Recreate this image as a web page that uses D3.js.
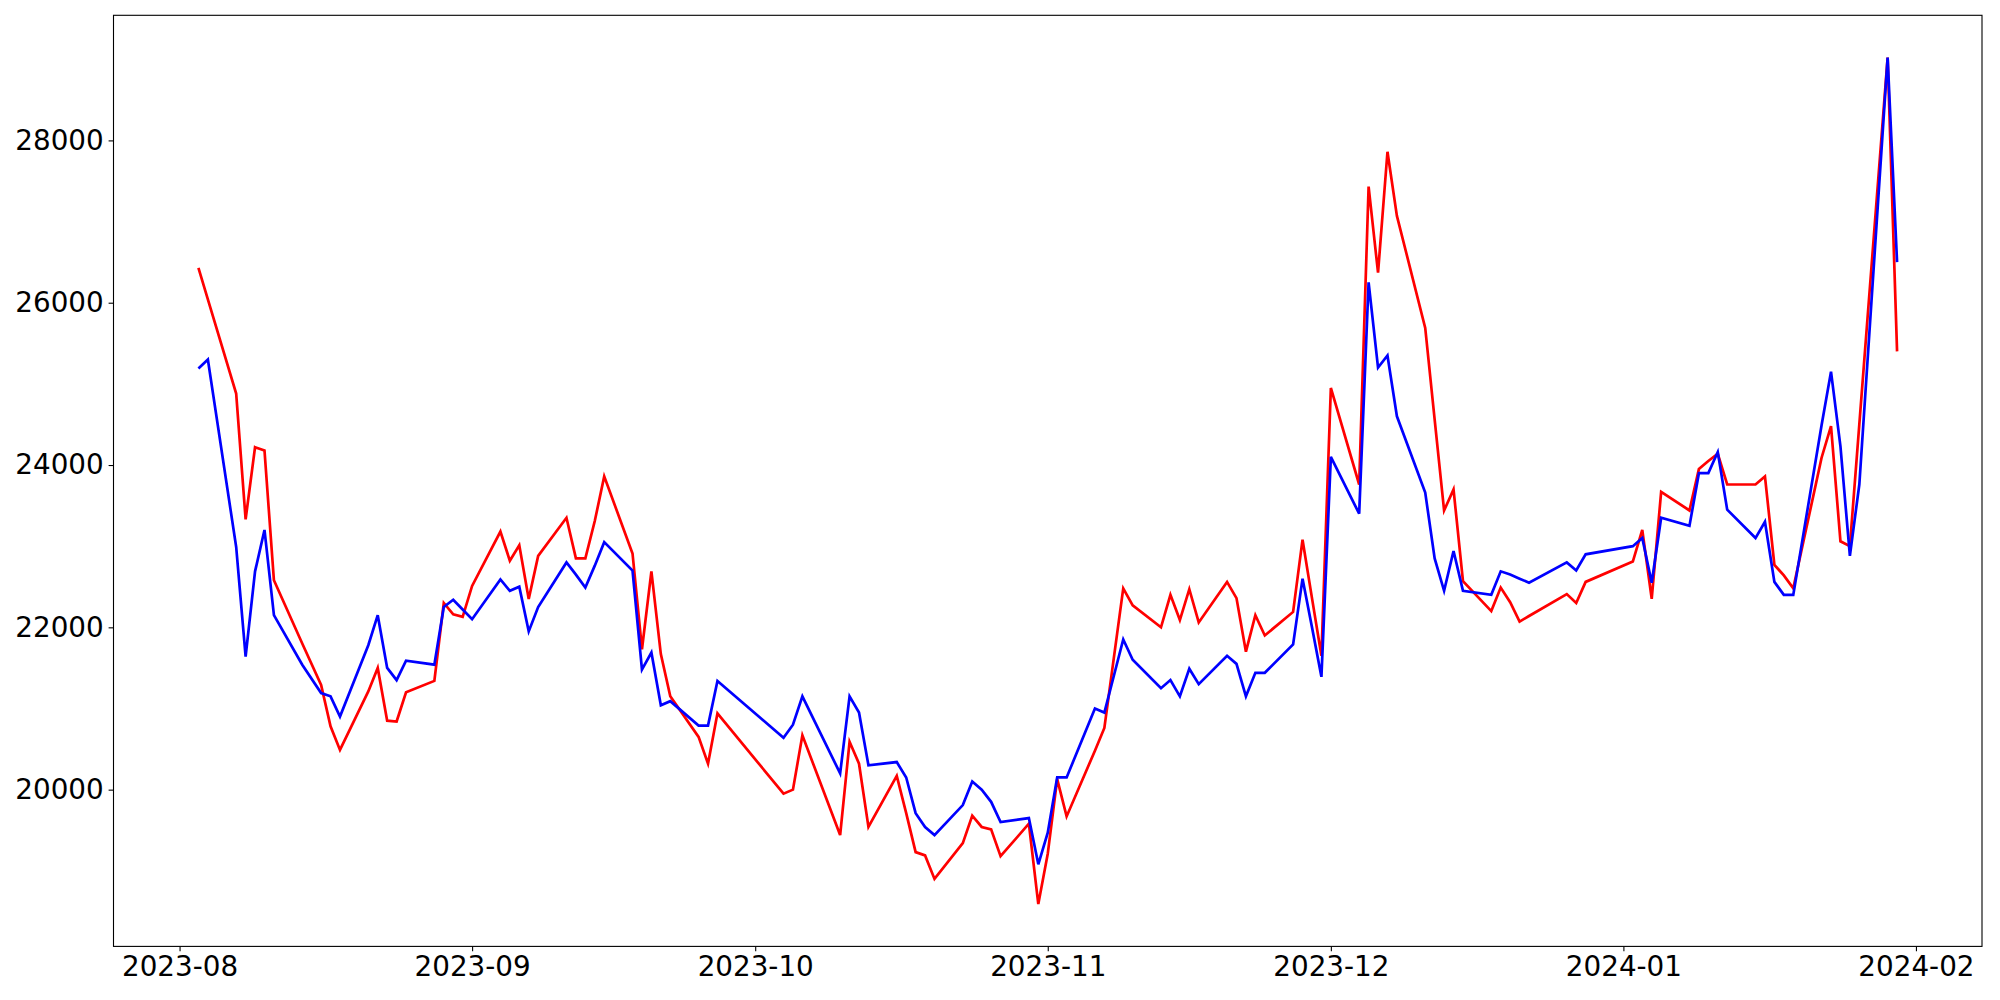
<!DOCTYPE html>
<html>
<head>
<meta charset="utf-8">
<script src="https://cdn.jsdelivr.net/npm/d3@7"></script>
<style>
  html, body { margin: 0; padding: 0; background: #ffffff; }
  svg { display: block; }
  .tick text { font-family: "DejaVu Sans", sans-serif; }
</style>
</head>
<body>
<svg id="chart" width="2000" height="1000"></svg>
<script>
// ---- data ----
const dates = [
  "2023-08-03","2023-08-04","2023-08-07","2023-08-08","2023-08-09","2023-08-10","2023-08-11","2023-08-14","2023-08-16","2023-08-17",
  "2023-08-18","2023-08-21","2023-08-22","2023-08-23","2023-08-24","2023-08-25","2023-08-28","2023-08-29","2023-08-30","2023-08-31",
  "2023-09-01","2023-09-04","2023-09-05","2023-09-06","2023-09-07","2023-09-08","2023-09-11","2023-09-12","2023-09-13","2023-09-14",
  "2023-09-15","2023-09-18","2023-09-19","2023-09-20","2023-09-21","2023-09-22","2023-09-25","2023-09-26","2023-09-27",
  "2023-10-04","2023-10-05","2023-10-06","2023-10-10","2023-10-11","2023-10-12","2023-10-13","2023-10-16","2023-10-17","2023-10-18",
  "2023-10-19","2023-10-20","2023-10-23","2023-10-24","2023-10-25","2023-10-26","2023-10-27","2023-10-30","2023-10-31",
  "2023-11-01","2023-11-02","2023-11-03","2023-11-06","2023-11-07","2023-11-08","2023-11-09","2023-11-10","2023-11-13","2023-11-14",
  "2023-11-15","2023-11-16","2023-11-17","2023-11-20","2023-11-21","2023-11-22","2023-11-23","2023-11-24","2023-11-27","2023-11-28",
  "2023-11-29","2023-11-30",
  "2023-12-01","2023-12-04","2023-12-05","2023-12-06","2023-12-07","2023-12-08","2023-12-11","2023-12-12","2023-12-13","2023-12-14",
  "2023-12-15","2023-12-18","2023-12-19","2023-12-20","2023-12-21","2023-12-22","2023-12-26","2023-12-27","2023-12-28",
  "2024-01-02","2024-01-03","2024-01-04","2024-01-05","2024-01-08","2024-01-09","2024-01-10","2024-01-11","2024-01-12","2024-01-15",
  "2024-01-16","2024-01-17","2024-01-18","2024-01-19","2024-01-22","2024-01-23","2024-01-24","2024-01-25","2024-01-26","2024-01-29",
  "2024-01-30"
];

const redValues = [
  26430,26040,24880,23330,24220,24180,22580,21800,21290,20780,
  20490,21210,21500,20850,20840,21200,21340,22300,22160,22130,
  22510,23180,22820,23010,22350,22880,23350,22850,22850,23310,
  23860,22910,21730,22690,21670,21150,20650,20320,20940,
  19950,20000,20670,19440,20590,20320,19540,20170,19710,19230,
  19190,18900,19340,19680,19540,19510,19180,19580,18590,
  19210,20130,19670,20480,20760,21620,22480,22270,22000,22400,
  22090,22470,22060,22560,22360,21700,22150,21900,22190,23080,
  22360,21650,
  24950,23760,27430,26370,27860,27070,25690,24560,23440,23700,
  22570,22200,22490,22310,22070,22140,22410,22300,22560,
  22810,23200,22350,23670,23440,23950,24050,24140,23760,23760,
  23860,22770,22640,22480,24090,24480,23060,23000,24500,29020,
  25400
];

const blueValues = [
  25190,25300,22990,21640,22690,23200,22150,21540,21190,21150,
  20900,21780,22150,21500,21350,21590,21540,22250,22340,22220,
  22100,22590,22450,22500,21950,22250,22800,22650,22490,22760,
  23050,22700,21480,21690,21040,21090,20790,20790,21340,
  20640,20800,21150,20200,21150,20950,20300,20340,20150,19710,
  19540,19440,19810,20100,20000,19850,19600,19650,19080,
  19470,20150,20150,21000,20950,21400,21850,21600,21250,21350,
  21150,21490,21300,21650,21550,21150,21440,21440,21790,22600,
  22000,21390,
  24100,23400,26250,25200,25350,24600,23660,22850,22450,22940,
  22450,22400,22690,22650,22600,22550,22800,22700,22900,
  23000,23100,22550,23350,23250,23900,23900,24160,23450,23100,
  23300,22560,22400,22400,24490,25150,24230,22880,23760,29020,
  26500
];

const yTickValues = [20000, 22000, 24000, 26000, 28000];
const seriesColors = ["#ff0000", "#0000ff"];

// ---- layout ----
const W = 2000, H = 1000;
const plot = { left: 113.5, right: 1982, top: 15.3, bottom: 946.4 };
const fontPx = 27.8;

const parse = d3.utcParse("%Y-%m-%d");
const xDates = dates.map(parse);

const series = [redValues, blueValues].map(vals =>
  vals.map((v, i) => ({ date: xDates[i], value: v }))
);

// matplotlib-like 5% margins
const [d0, d1] = d3.extent(xDates);
const span = d1 - d0;
const x = d3.scaleUtc()
  .domain([new Date(+d0 - 0.05 * span), new Date(+d1 + 0.05 * span)])
  .range([plot.left, plot.right]);

const allVals = redValues.concat(blueValues);
const [v0, v1] = d3.extent(allVals);
const vr = v1 - v0;
const y = d3.scaleLinear()
  .domain([v0 - 0.05 * vr, v1 + 0.05 * vr])
  .range([plot.bottom, plot.top]);

const svg = d3.select("#chart");
svg.append("rect").attr("width", W).attr("height", H).attr("fill", "#ffffff");

// clip
svg.append("clipPath").attr("id", "clip")
  .append("rect")
  .attr("x", plot.left).attr("y", plot.top)
  .attr("width", plot.right - plot.left).attr("height", plot.bottom - plot.top);

const line = d3.line()
  .x(d => x(d.date))
  .y(d => y(d.value));

const g = svg.append("g").attr("clip-path", "url(#clip)");
series.forEach((s, i) => {
  g.append("path")
    .datum(s)
    .attr("fill", "none")
    .attr("stroke", seriesColors[i])
    .attr("stroke-width", 2.7)
    .attr("stroke-linejoin", "miter")
    .attr("stroke-linecap", "butt")
    .attr("d", line);
});

// axes
const xAxis = d3.axisBottom(x)
  .ticks(d3.utcMonth.every(1))
  .tickFormat(d3.utcFormat("%Y-%m"))
  .tickSizeInner(4.9)
  .tickSizeOuter(0)
  .tickPadding(4.9);

const yAxis = d3.axisLeft(y)
  .tickValues(yTickValues)
  .tickFormat(d3.format("d"))
  .tickSizeInner(4.9)
  .tickSizeOuter(0)
  .tickPadding(4.9);

const gx = svg.append("g")
  .attr("transform", `translate(0,${plot.bottom})`)
  .call(xAxis);
const gy = svg.append("g")
  .attr("transform", `translate(${plot.left},0)`)
  .call(yAxis);

[gx, gy].forEach(ax => {
  ax.select(".domain").remove();
  ax.selectAll(".tick line").attr("stroke", "#000").attr("stroke-width", 1.1);
  ax.selectAll(".tick text")
    .attr("fill", "#000")
    .style("font-size", fontPx + "px")
    .style("font-family", "'DejaVu Sans', sans-serif");
});

// frame (spines)
svg.append("rect")
  .attr("x", plot.left).attr("y", plot.top)
  .attr("width", plot.right - plot.left).attr("height", plot.bottom - plot.top)
  .attr("fill", "none")
  .attr("stroke", "#000")
  .attr("stroke-width", 1.1);
</script>
</body>
</html>
